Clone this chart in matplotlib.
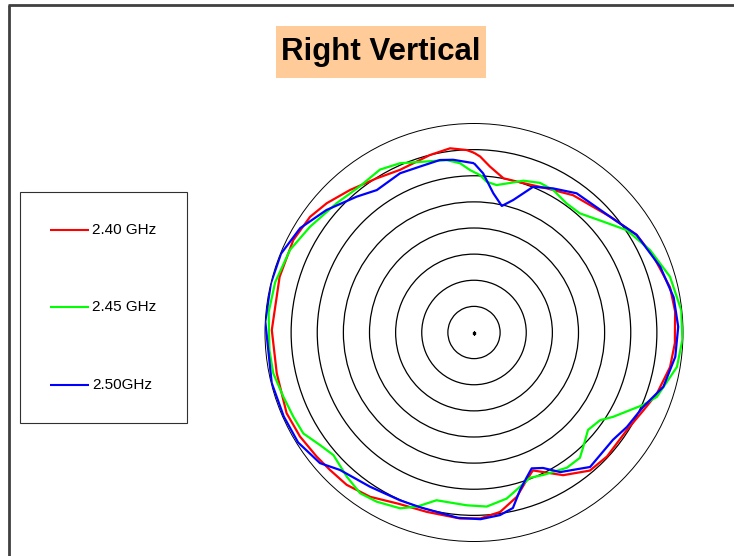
import numpy as np
import matplotlib.pyplot as plt
from matplotlib.lines import Line2D
from matplotlib.patches import Rectangle

W, H = 734, 556

# measured pattern, angle in degrees (0 = top, clockwise), gain in dB
red_deg = [0, 2, 5.5, 10.8, 18.1, 26.8, 35.8, 49.6, 59, 67, 77, 84, 93, 100, 108.5,
           114.6, 122.6, 133, 140, 148, 156.9, 160.4, 165.4, 171.7, 178, 184.3, 194.8,
           203.6, 212.3, 219.9, 226.3, 231.7, 239.1, 246.7, 258.3, 270.7, 286, 297.1,
           305.2, 311.3, 319, 327.7, 335.5, 346.1, 352.6, 357.7, 360]
red_db = [-5.6, -6.3, -8.1, -9.95, -9.9, -9.1, -7.6, -5.8, -3.7, -2.7, -1.5, -1.3, -1.5,
          -1.9, -3.1, -4.3, -5.3, -5.2, -5.5, -7.8, -11.3, -10.0, -7.5, -5.3, -4.4, -4.3,
          -4.5, -4.2, -2.8, -2.0, -1.9, -1.65, -1.2, -0.95, -1.45, -1.3, -1.3, -1.15,
          -1.6, -2.5, -3.85, -5.1, -5.8, -5.0, -4.45, -5.05, -5.6]

green_deg = [0, 2.2, 4.8, 8.7, 12.4, 18, 23.8, 29.1, 35.7, 41.6, 49.4, 56.2, 64.9, 74.1,
             83.9, 92, 99.6, 109.4, 113.2, 121.3, 124.8, 130.5, 136.4, 139.8, 145.5,
             154.2, 158.9, 166.3, 168.9, 175.8, 182.4, 192.6, 198.2, 202.8, 209.9, 215.3,
             221.4, 228.9, 233.8, 239.4, 245, 251.4, 258.5, 265, 275.6, 284.2, 294.2,
             302.8, 313.3, 322, 330, 336.4, 343.5, 351, 355.3, 358.6, 360]
green_db = [-9.3, -9.85, -11.05, -11.45, -10.8, -9.45, -8.7, -8.8, -9.6, -9.5, -7.4, -4.8,
            -2.8, -1.0, -0.1, -0.1, -0.6, -2.9, -4.8, -8.9, -10.6, -11.3, -9.7, -8.6, -8.6,
            -9.7, -10.2, -8.4, -7.6, -6.6, -6.9, -7.1, -4.9, -3.5, -2.65, -2.3, -3.2, -4.3,
            -3.5, -2.05, -1.85, -1.5, -0.8, -0.7, -0.5, -0.75, -1.4, -2.65, -3.9, -4.5,
            -4.0, -4.65, -5.9, -6.6, -7.5, -8.9, -9.3]

blue_deg = [0, 3.3, 7.9, 12.4, 16.5, 22.1, 28.7, 36.4, 49.6, 59, 70.6, 80, 88.4, 96.9,
            106, 113.8, 121.7, 127.7, 139.2, 148.3, 153, 157, 160, 163.7, 167.5, 171.9,
            178, 185, 197.2, 203.8, 214, 224.3, 229.7, 238, 246.2, 256, 273, 283.6, 292.2,
            301, 309.7, 319.2, 325.7, 335.1, 342, 348.8, 353.1, 360]
blue_db = [-7.6, -9.5, -13.1, -15.2, -13.55, -9.9, -8.55, -6.9, -5.8, -3.7, -2.2, -1.2,
           -0.9, -1.2, -2.3, -4.65, -5.6, -6.4, -6.0, -8.6, -10.9, -11.75, -10.5, -8.6,
           -5.6, -4.7, -4.25, -4.4, -5.0, -4.9, -4.4, -3.25, -1.35, -0.3, -0.2, -0.1, 0.0,
           0.0, -0.1, -1.2, -3.3, -5.65, -7.0, -6.4, -6.6, -6.35, -6.7, -7.6]

labels = ['2.40 GHz', '2.45 GHz', '2.50GHz']
colors = ['#ff0000', '#00ff00', '#0000ff']
rings = [-35, -30, -25, -20, -15, -10, -5]


def px(x, y):
    # figure pixel (from top-left) -> figure fraction
    return x / W, 1 - y / H


plt.rcParams['lines.solid_capstyle'] = 'butt'
plt.rcParams['font.family'] = ['Liberation Sans', 'DejaVu Sans']
fig = plt.figure(figsize=(W / 100, H / 100), dpi=100)

cx, cy, R = 474, 332.5, 209
ax = fig.add_axes([(cx - R) / W, (H - cy - R) / H, 2 * R / W, 2 * R / H],
                  projection='polar')
ax.set_theta_zero_location('N')
ax.set_theta_direction(-1)
ax.set_rlim(-40, 0)
ax.set_rgrids(rings, labels=[''] * len(rings))
ax.set_thetagrids([], [])
ax.tick_params(length=0)
ax.grid(True, color='black', lw=0.9)
ax.spines['polar'].set_color('black')
ax.spines['polar'].set_linewidth(0.7)
ax.set_facecolor('none')

for deg, db, c in zip([red_deg, green_deg, blue_deg], [red_db, green_db, blue_db], colors):
    ax.plot(np.radians(deg), db, color=c, lw=1.6, zorder=3, solid_joinstyle='round')
ax.plot([0], [-40], marker='s', ms=1.8, color='black', zorder=4)

# outer frame (top and left edges)
fig.add_artist(Line2D([px(8, 5)[0], 1.0], [px(8, 5)[1]] * 2, color='#404040', lw=2))
fig.add_artist(Line2D([px(9, 5)[0]] * 2, [px(9, 5)[1], 0.0], color='#404040', lw=2))

# title box
x0, y0 = px(276, 78)
fig.add_artist(Rectangle((x0, y0), 210 / W, 52 / H, transform=fig.transFigure,
                         facecolor='#ffcc99', edgecolor='none'))
fig.text(*px(381, 52), 'Right Vertical', ha='center', va='center',
         fontsize=22.5, fontweight='bold', color='black')

# legend box
lx0, ly0 = px(20, 423)
fig.add_artist(Rectangle((lx0, ly0), 167 / W, 231 / H, transform=fig.transFigure,
                         facecolor='white', edgecolor='#303030', lw=0.8))
for lab, c, yy in zip(labels, colors, [230, 307, 385]):
    fig.add_artist(Line2D([px(50, yy)[0], px(89, yy)[0]], [px(50, yy)[1]] * 2,
                          color=c, lw=1.5))
    fig.text(*px(92, yy), lab, ha='left', va='center', fontsize=11, color='black')

fig.savefig('out.png', dpi=100)
